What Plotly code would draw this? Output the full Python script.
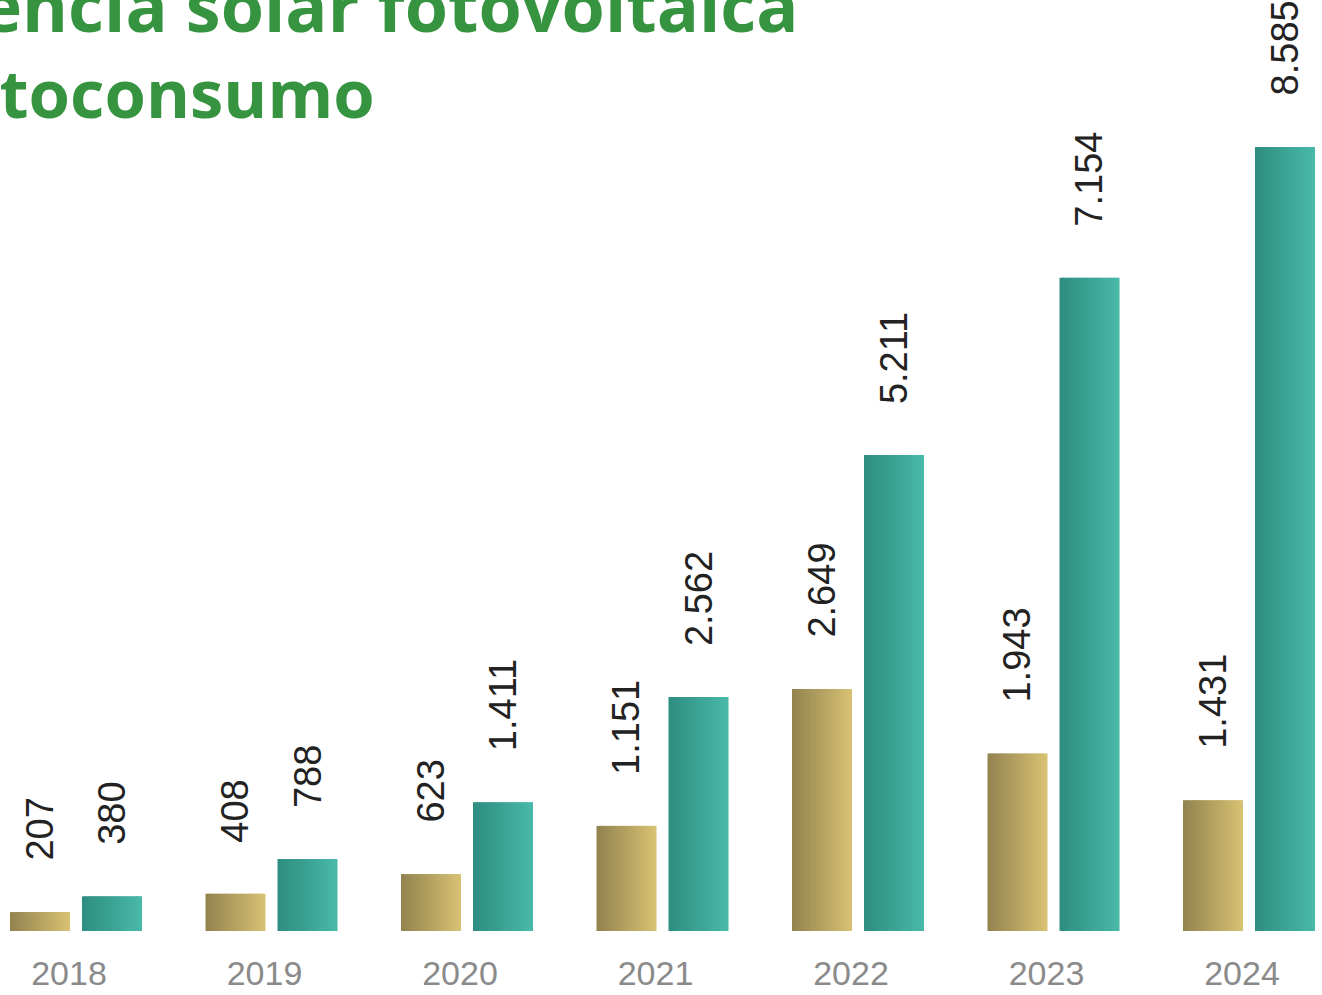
import plotly.graph_objects as go

years = ["2018", "2019", "2020", "2021", "2022", "2023", "2024"]
gold_values = [207, 408, 623, 1151, 2649, 1943, 1431]
teal_values = [380, 788, 1411, 2562, 5211, 7154, 8585]
title_line1 = "Potencia solar fotovoltaica"
title_line2 = "en autoconsumo"

def fmt(v):
    return f"{v:,}".replace(",", ".")

def lerp(c1, c2, t):
    return "rgb(%d,%d,%d)" % tuple(round(a + (b - a) * t) for a, b in zip(c1, c2))

GOLD = ((148, 132, 80), (214, 192, 114))
TEAL = ((46, 142, 129), (72, 184, 168))

UNIT = 195.5
BAR_W = 60 / UNIT
GOLD_OFF = -59 / UNIT
TEAL_OFF = 13 / UNIT
N = 20

x = list(range(len(years)))
fig = go.Figure()
for vals, (c1, c2), off in ((gold_values, GOLD, GOLD_OFF), (teal_values, TEAL, TEAL_OFF)):
    sw = BAR_W / N
    for k in range(N):
        w = sw * (1.6 if k < N - 1 else 1.0)
        fig.add_trace(go.Bar(
            x=x, y=vals, width=[w] * len(x), offset=[off + k * sw] * len(x),
            marker=dict(color=lerp(c1, c2, k / (N - 1)), line=dict(width=0)),
            showlegend=False, hoverinfo="skip"))
    for i, v in enumerate(vals):
        fig.add_annotation(x=i + off + BAR_W / 2, y=v, xref="x", yref="y",
                           text=fmt(v), textangle=-90, showarrow=False,
                           xanchor="center", yanchor="bottom", yshift=49,
                           font=dict(family="Liberation Sans", size=38, color="#222222"))

fig.add_annotation(x=801 / 1322, y=1 - 59 / 995, xref="paper", yref="paper",
                   text=title_line1, showarrow=False, xanchor="right", yanchor="bottom",
                   font=dict(family="Open Sans", size=70, color="#36933F", weight="bold"))
fig.add_annotation(x=377 / 1322, y=1 - 150 / 995, xref="paper", yref="paper",
                   text=title_line2, showarrow=False, xanchor="right", yanchor="bottom",
                   font=dict(family="Open Sans", size=67, color="#36933F", weight="bold"))

fig.update_layout(
    width=1322, height=995, barmode="overlay",
    margin=dict(l=0, r=0, t=0, b=64),
    paper_bgcolor="white", plot_bgcolor="white",
    xaxis=dict(range=[-69 / UNIT, (1322 - 69) / UNIT], tickvals=x, ticktext=years,
               showgrid=False, zeroline=False, showline=False, ticks="",
               ticklabelstandoff=19,
               tickfont=dict(family="Liberation Sans", size=34, color="#8a8a8a")),
    yaxis=dict(range=[0, 931 / 0.09133], visible=False, showgrid=False, zeroline=False),
)
fig.write_html("out.html", config={"displayModeBar": False},
               post_script="document.body.style.margin='0';")
